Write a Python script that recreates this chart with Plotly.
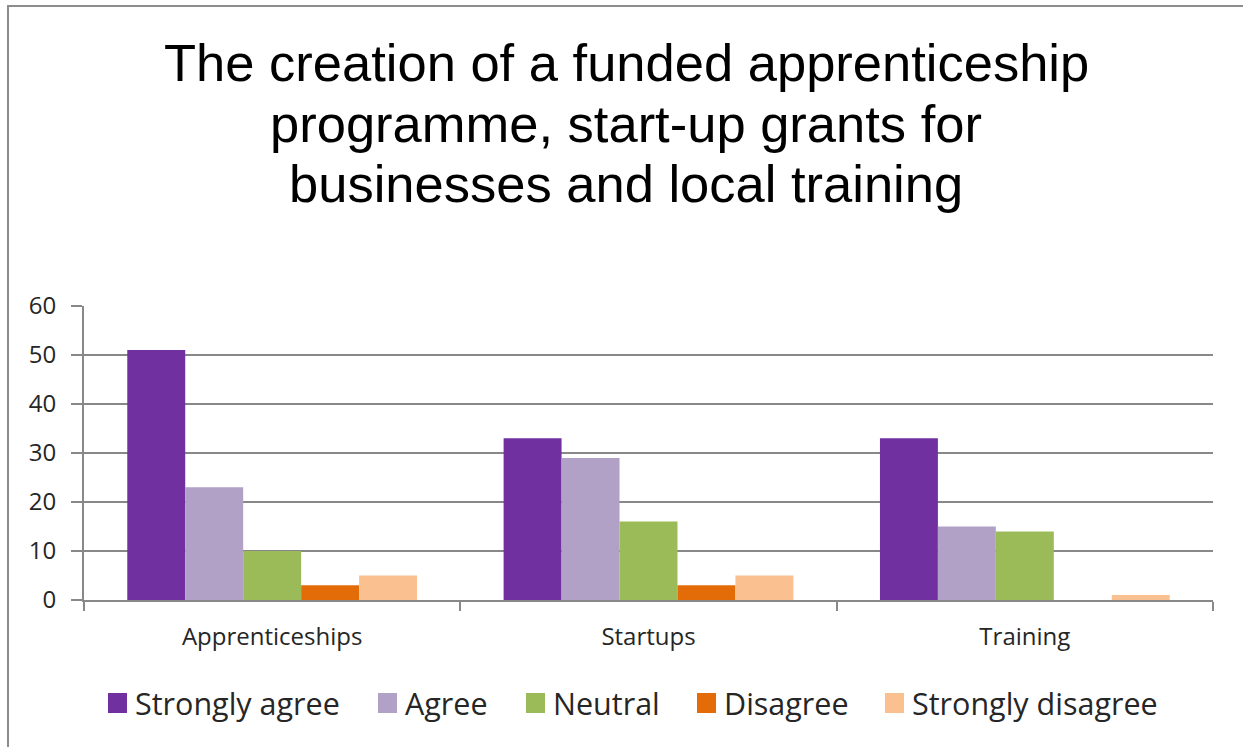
import plotly.graph_objects as go

categories = ["Apprenticeships", "Startups", "Training"]
series_names = ["Strongly agree", "Agree", "Neutral", "Disagree", "Strongly disagree"]
strongly_agree = [51, 33, 33]
agree = [23, 29, 15]
neutral = [10, 16, 14]
disagree = [3, 3, 0]
strongly_disagree = [5, 5, 1]
y_ticks = [0, 10, 20, 30, 40, 50, 60]
title_lines = ["The creation of a funded apprenticeship",
               "programme, start-up grants for",
               "businesses and local training"]

series_values = [strongly_agree, agree, neutral, disagree, strongly_disagree]
colors = ["#7030A0", "#B2A1C7", "#9BBB59", "#E36C09", "#FAC090"]

W, H = 1243, 747
L, R, T, B = 84, 30, 306, 147
PW = W - L - R
PH = H - T - B

def px_x(p):
    return (p - L) / PW

def px_y(p):
    return (H - B - p) / PH

fig = go.Figure()
for name, vals, col in zip(series_names, series_values, colors):
    fig.add_trace(go.Bar(x=categories, y=vals, name=name, marker_color=col,
                         marker_line_width=0, showlegend=False))

GRID = "#888888"
LABEL_FONT = "'Open Sans', Lato, sans-serif"
TEXT_COL = "#262626"

annotations = []
title_centers = [62, 123, 183]
for line, yc in zip(title_lines, title_centers):
    annotations.append(dict(text=line, x=px_x(626), y=px_y(yc), xref="paper", yref="paper",
                            xanchor="center", yanchor="middle", showarrow=False,
                            font=dict(family="Liberation Sans, Arial", size=52.5, color="#000000")))

shapes = []
legend_x = [108, 378, 526, 697, 885]
legend_y = 703
for name, col, lx in zip(series_names, colors, legend_x):
    shapes.append(dict(type="rect", xref="paper", yref="paper",
                       x0=px_x(lx), x1=px_x(lx + 19), y0=px_y(legend_y - 10), y1=px_y(legend_y + 10),
                       fillcolor=col, line=dict(width=0)))
    annotations.append(dict(text=name, x=px_x(lx + 25), y=px_y(legend_y), xref="paper", yref="paper",
                            xanchor="left", yanchor="middle", showarrow=False,
                            font=dict(family=LABEL_FONT, size=30.5, color=TEXT_COL)))

# chart border
shapes.append(dict(type="rect", xref="paper", yref="paper",
                   x0=px_x(8), x1=px_x(W + 20), y0=px_y(H + 20), y1=px_y(6),
                   line=dict(color="#8c8c8c", width=2), fillcolor="rgba(0,0,0,0)", layer="below"))

fig.update_layout(
    width=W, height=H,
    margin=dict(l=L, r=R, t=T, b=B, pad=0),
    paper_bgcolor="white", plot_bgcolor="white",
    barmode="group", bargap=0.23, bargroupgap=0,
    annotations=annotations, shapes=shapes,
    showlegend=False,
)
fig.update_yaxes(range=[0, 60], tickvals=y_ticks, showgrid=True, gridcolor=GRID, gridwidth=2,
                 showline=True, linecolor=GRID, linewidth=2, ticks="outside", ticklen=11,
                 tickcolor=GRID, tickwidth=2, ticklabelstandoff=10, zeroline=False,
                 tickfont=dict(family=LABEL_FONT, size=24, color=TEXT_COL), fixedrange=True)
fig.update_xaxes(showline=True, linecolor=GRID, linewidth=2, ticks="outside", ticklen=9,
                 tickcolor=GRID, tickwidth=2, tickson="boundaries", showgrid=False,
                 ticklabelstandoff=14,
                 tickfont=dict(family=LABEL_FONT, size=24, color=TEXT_COL), fixedrange=True)

fig.write_html("out.html", config={"displayModeBar": False},
               post_script="document.body.style.margin='0';document.body.style.overflow='hidden';")
